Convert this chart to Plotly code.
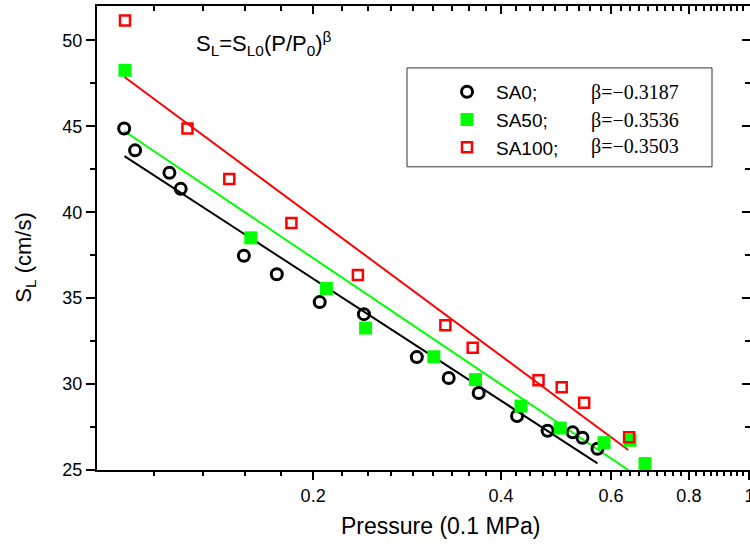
import math
import plotly.graph_objects as go

# ---------------- data ----------------
sa0_p = [0.0996, 0.1037, 0.1177, 0.1227, 0.1549, 0.1749, 0.2049, 0.2412,
         0.2932, 0.3298, 0.3684, 0.4244, 0.4750, 0.5210, 0.5402, 0.5710]
sa0_s = [44.87, 43.60, 42.29, 41.36, 37.47, 36.39, 34.77, 34.07,
         31.57, 30.35, 29.48, 28.14, 27.28, 27.19, 26.88, 26.24]

sa50_p = [0.0999, 0.1589, 0.2100, 0.2427, 0.3122, 0.3640, 0.4306, 0.4976,
          0.5850, 0.6438, 0.6804]
sa50_s = [48.26, 38.51, 35.56, 33.26, 31.59, 30.26, 28.72, 27.44,
          26.59, 26.73, 25.37]

sa100_p = [0.0999, 0.1258, 0.1468, 0.1846, 0.2359, 0.3258, 0.3603, 0.4594,
           0.5004, 0.5436, 0.6416]
sa100_s = [51.16, 44.87, 41.94, 39.38, 36.34, 33.43, 32.12, 30.22,
           29.81, 28.92, 26.90]

# fitted lines (end points)
fit0_p = [0.0997, 0.5710]
fit0_s = [43.26, 25.39]
fit50_p = [0.0997, 0.6398]
fit50_s = [44.71, 25.00]
fit100_p = [0.0997, 0.6398]
fit100_s = [47.87, 26.16]

series_names = ["SA0;", "SA50;", "SA100;"]
betas = [-0.3187, -0.3536, -0.3503]

x_major_vals = [0.2, 0.4, 0.6, 0.8, 1.0]
x_major_text = ["0.2", "0.4", "0.6", "0.8", "1"]
y_major_vals = [25, 30, 35, 40, 45, 50]
y_minor_vals = [27.5, 32.5, 37.5, 42.5, 47.5]

# Origin-style minor ticks: 8 linear minors between majors (step 0.2/9)
x_minor_vals = [0.2 - k * 0.2 / 9 for k in range(1, 5)]
for a in [0.2, 0.4, 0.6, 0.8]:
    x_minor_vals += [a + k * 0.2 / 9 for k in range(1, 9)]

X_RANGE = [math.log10(0.0901), 0.001]
Y_RANGE = [25, 52.0]

FONT = "Liberation Sans, Arial, sans-serif"
SERIF = "Liberation Serif, Times New Roman, serif"
BLACK, GREEN, RED = "#000000", "#00FF00", "#FF0000"

PLOT_L, PLOT_R, PLOT_T, PLOT_B = 97, 750, 6, 470.5   # pixels in the picture


def px_x(p):
    return (p - PLOT_L) / (PLOT_R - PLOT_L)


def px_y(p):
    return (PLOT_B - p) / (PLOT_B - PLOT_T)


fig = go.Figure()

# fit lines
for px_, sy_, col in [(fit0_p, fit0_s, BLACK), (fit50_p, fit50_s, GREEN),
                      (fit100_p, fit100_s, RED)]:
    fig.add_trace(go.Scatter(x=px_, y=sy_, mode="lines",
                             line=dict(color=col, width=2),
                             showlegend=False, hoverinfo="skip"))

# data markers
fig.add_trace(go.Scatter(x=sa0_p, y=sa0_s, mode="markers", name=series_names[0],
                         marker=dict(symbol="circle-open", size=11, color=BLACK,
                                     line=dict(width=3, color=BLACK))))
fig.add_trace(go.Scatter(x=sa50_p, y=sa50_s, mode="markers", name=series_names[1],
                         marker=dict(symbol="square", size=13, color=GREEN,
                                     line=dict(width=0))))
fig.add_trace(go.Scatter(x=sa100_p, y=sa100_s, mode="markers", name=series_names[2],
                         marker=dict(symbol="square-open", size=10, color=RED,
                                     line=dict(width=2.5, color=RED))))

# invisible helper trace so that the mirrored top/right axes are drawn
fig.add_trace(go.Scatter(x=fit0_p, y=fit0_s, xaxis="x2", yaxis="y2", mode="lines",
                         line=dict(width=0), opacity=0, showlegend=False,
                         hoverinfo="skip"))

axis_common = dict(showline=True, linewidth=2, linecolor=BLACK, showgrid=False,
                   zeroline=False, tickcolor=BLACK, tickwidth=2, automargin=False)

W, H = 750, 545
fig.update_layout(
    width=W, height=H,
    margin=dict(l=PLOT_L, r=W - PLOT_R, t=PLOT_T, b=H - PLOT_B, pad=0,
                autoexpand=False),
    plot_bgcolor="white", paper_bgcolor="white",
    font=dict(family=FONT, size=18, color=BLACK),
    showlegend=True,
    legend=dict(x=px_x(438), y=px_y(73), xanchor="left", yanchor="top",
                bgcolor="rgba(0,0,0,0)", borderwidth=0,
                font=dict(family=FONT, size=19, color=BLACK),
                itemwidth=48, tracegroupgap=0),
    xaxis=dict(type="log", range=X_RANGE, tickmode="array",
               tickvals=x_major_vals, ticktext=x_major_text,
               ticks="outside", ticklen=8, ticklabeloverflow="allow",
               minor=dict(tickmode="array", tickvals=x_minor_vals, ticks="outside",
                          ticklen=4, tickwidth=1.5, tickcolor=BLACK, showgrid=False),
               **axis_common),
    xaxis2=dict(type="log", range=X_RANGE, overlaying="x", side="top",
                tickmode="array", tickvals=x_major_vals, showticklabels=False,
                ticks="inside", ticklen=8,
                minor=dict(tickmode="array", tickvals=x_minor_vals, ticks="inside",
                           ticklen=5, tickwidth=1.5, tickcolor=BLACK, showgrid=False),
                **axis_common),
    yaxis=dict(range=Y_RANGE, tickmode="array", tickvals=y_major_vals,
               ticks="outside", ticklen=9,
               minor=dict(tickmode="array", tickvals=y_minor_vals, ticks="outside",
                          ticklen=5, tickwidth=1.5, tickcolor=BLACK, showgrid=False),
               **axis_common),
    yaxis2=dict(range=Y_RANGE, overlaying="y", side="right", tickmode="array",
                tickvals=y_major_vals, showticklabels=False,
                ticks="inside", ticklen=8,
                minor=dict(tickmode="array", tickvals=y_minor_vals, ticks="inside",
                           ticklen=5, tickwidth=1.5, tickcolor=BLACK, showgrid=False),
                **axis_common),
)

# legend frame
fig.add_shape(type="rect", xref="paper", yref="paper",
              x0=px_x(407), x1=px_x(712), y0=px_y(167), y1=px_y(68),
              line=dict(color="#333333", width=1), fillcolor="rgba(0,0,0,0)")

# beta values next to legend entries
beta_rows = [93, 121, 147]
for b, yy in zip(betas, beta_rows):
    fig.add_annotation(xref="paper", yref="paper", x=px_x(589), y=px_y(yy),
                       xanchor="left", yanchor="middle", showarrow=False,
                       text="\u03b2=\u2212" + f"{abs(b):.4f}",
                       font=dict(family=SERIF, size=20, color=BLACK))

# formula
fig.add_annotation(xref="paper", yref="paper", x=px_x(194), y=px_y(44),
                   xanchor="left", yanchor="middle", showarrow=False,
                   text="S<sub>L</sub>=S<sub>L0</sub>(P/P<sub>0</sub>)<sup>\u03b2</sup>",
                   font=dict(family=FONT, size=22, color=BLACK))

# axis titles
fig.add_annotation(xref="paper", yref="paper", x=px_x(440), y=px_y(527),
                   xanchor="center", yanchor="middle", showarrow=False,
                   text="Pressure (0.1 MPa)",
                   font=dict(family=FONT, size=23, color=BLACK))
fig.add_annotation(xref="paper", yref="paper", x=px_x(25), y=px_y(258),
                   xanchor="center", yanchor="middle", showarrow=False,
                   textangle=-90, text="S<sub>L</sub> (cm/s)",
                   font=dict(family=FONT, size=22, color=BLACK))

# remove the browser's default page margin / scrollbars so the figure
# occupies the window exactly
page_fix = ("document.documentElement.style.overflow='hidden';"
            "document.body.style.overflow='hidden';"
            "document.body.style.margin='0';")

fig.write_html("out.html", post_script=page_fix,
               config={"displayModeBar": False})
